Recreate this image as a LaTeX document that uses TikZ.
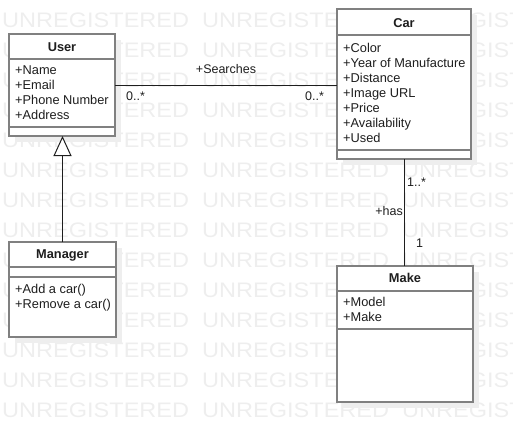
\documentclass[tikz,border=0pt]{standalone}
\usepackage{fontspec}
\setmainfont{Liberation Sans}
\usetikzlibrary{arrows.meta}

\definecolor{boxgray}{HTML}{808080}
\definecolor{shadowgray}{HTML}{EEEEEE}
\definecolor{markgray}{HTML}{EEEEEE}
\definecolor{inkgray}{HTML}{1E1E1E}

\begin{document}
\begin{tikzpicture}[x=1pt, y=-1pt,
    classbox/.style={draw=boxgray, line width=1.6pt, fill=white, anchor=north west, inner sep=0pt, outer sep=0pt},
    sepline/.style={draw=boxgray, line width=1.6pt},
    classname/.style={font=\bfseries\fontsize{12.8}{15}\selectfont, text=inkgray, anchor=base, inner sep=0pt},
    member/.style={font=\fontsize{12.8}{15}\selectfont, text=inkgray, anchor=base west, inner sep=0pt},
    role/.style={font=\fontsize{12.5}{15}\selectfont, text=inkgray, anchor=base west, inner sep=0pt},
    assoc/.style={draw=inkgray, line width=1pt},
    generalize/.style={draw=inkgray, line width=1pt, -{Triangle[open, length=20pt, width=18pt, fill=white]}},
    watermark/.style={font=\fontsize{21}{21}\selectfont, text=markgray, anchor=west, inner sep=0pt, xscale=1.12}
]

    \useasboundingbox (0,0) rectangle (513,442);

    % ==========================================
    % Shadows and watermark
    % ==========================================
    \fill[shadowgray] (15,40) rectangle (121,142);
    \fill[shadowgray] (343,15) rectangle (477,165);
    \fill[shadowgray] (15,248) rectangle (122,343);
    \fill[shadowgray] (343,272) rectangle (479,408);

    \begin{scope}
        \clip (0,0) rectangle (513,442);
        \foreach \row in {0,...,13}
            \foreach \col in {0,1,2}
                \node[watermark] at (2+200*\col, 20.5+30*\row) {UNREGISTERED};
    \end{scope}

    % ==========================================
    % Classes
    % ==========================================

    % User
    \node[classbox, minimum width=106pt, minimum height=102pt] (user) at (9,34) {};
    \draw[sepline] (9,59) -- (115,59);
    \draw[sepline] (9,127) -- (115,127);
    \node[classname] (usertitle) at (62,51.7) {User};
    \foreach \txt [count=\i] in {+Name,+Email,+Phone Number,+Address}
        \node[member] at (15,59.7+15*\i) {\txt};

    % Car
    \node[classbox, minimum width=134pt, minimum height=150pt] (car) at (337,9) {};
    \draw[sepline] (337,35) -- (471,35);
    \draw[sepline] (337,150) -- (471,150);
    \node[classname] (cartitle) at (404,27.7) {Car};
    \foreach \txt [count=\i] in {+Color,+Year of Manufacture,+Distance,+Image URL,+Price,+Availability,+Used}
        \node[member] at (343,37.7+15*\i) {\txt};

    % Manager
    \node[classbox, minimum width=107pt, minimum height=95pt] (manager) at (9,242) {};
    \draw[sepline] (9,267) -- (116,267);
    \draw[sepline] (9,277) -- (116,277);
    \node[classname] (managertitle) at (62.5,258.7) {Manager};
    \foreach \txt [count=\i] in {+Add a car(),+Remove a car()}
        \node[member] at (15,278.7+15*\i) {\txt};

    % Make
    \node[classbox, minimum width=136pt, minimum height=136pt] (make) at (337,266) {};
    \draw[sepline] (337,291) -- (473,291);
    \draw[sepline] (337,329) -- (473,329);
    \node[classname] (maketitle) at (405,282.7) {Make};
    \foreach \txt [count=\i] in {+Model,+Make}
        \node[member] at (343,291.7+15*\i) {\txt};

    % ==========================================
    % Relations
    % ==========================================

    % User searches Car
    \draw[assoc] (user.east) -- (user.east -| car.west);
    \node[role, anchor=base] (searches) at (226,73.5) {+Searches};
    \node[role] (usermult) at (126,100) {0..*};
    \node[role] (carmult) at (305,100) {0..*};

    % Car has Make
    \draw[assoc] (car.south) -- (car.south |- make.north);
    \node[role] (hasmany) at (407,186.5) {1..*};
    \node[role, anchor=base east] (has) at (403,215.5) {+has};
    \node[role] (hasone) at (416,247) {1};

    % Manager is a User
    \draw[generalize] (manager.north) -- (manager.north |- user.south);

\end{tikzpicture}
\end{document}
